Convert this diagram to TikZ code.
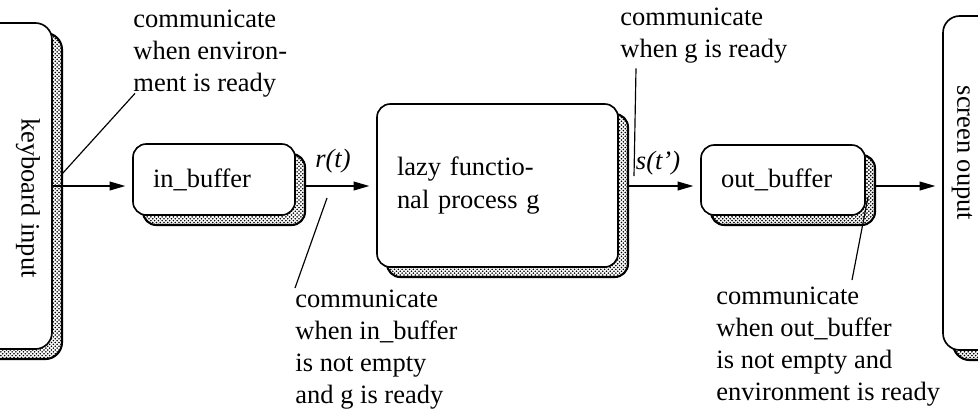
\documentclass[tikz,border=0pt]{standalone}
\usepackage{fontspec}
\setmainfont{Liberation Serif}
\usepackage{tikz}
\usetikzlibrary{arrows.meta}
\usetikzlibrary{patterns}
\usetikzlibrary{shadows}

\pgfdeclarepatternformonly{stipple}{\pgfqpoint{-0.5pt}{-0.5pt}}{\pgfqpoint{2pt}{2pt}}{\pgfqpoint{1.6pt}{1.6pt}}{
	\pgfpathcircle{\pgfqpoint{0.4pt}{0.4pt}}{0.38pt}
	\pgfpathcircle{\pgfqpoint{1.2pt}{1.2pt}}{0.38pt}
	\pgfusepath{fill}
}

\begin{document}
\begin{tikzpicture}[
	x=0.015cm, y=-0.015cm,
	every node/.style={font=\fontsize{11.3}{13.7}\selectfont},
	proc/.style={
		rectangle,
		rounded corners=2mm,
		draw=black,
		line width=0.7pt,
		fill=white,
		align=left,
		inner xsep=3mm,
		shadow xshift=1.5mm,
		shadow yshift=-1.5mm,
		general shadow={shadow xshift=1.5mm, shadow yshift=-1.5mm, pattern=stipple, draw=black, line width=0.9pt}
		},
	env/.style={
		proc,
		rounded corners=2.5mm,
		inner sep=0pt
		},
	note/.style={
		anchor=north west,
		inner sep=0pt,
		align=left
		},
	lab/.style={
		font=\fontsize{11.3}{13.7}\selectfont\itshape
		},
	flow/.style={
		-{Triangle[length=2.4mm,width=1.3mm]},
		line width=0.85pt,
		shorten >=1mm
		},
	lead/.style={
		line width=0.5pt
		}
]

\useasboundingbox (0,0) rectangle (978,409);
\clip (0,0) rectangle (978,409);

% Environment
\node [env, minimum width=1.38cm, minimum height=4.89cm] (kbd) at (6,186) {};
\node [env, minimum width=1.305cm, minimum height=5.01cm] (scr) at (986.5,183) {};
\node [rotate=-90] (kbdtxt) at (28,198) {keyboard input};
\node [rotate=-90] (scrtxt) at (962,153) {screen ouput};

% Processes
\node [proc, text width=1.83cm, minimum height=1.065cm] (inbuf) at (214,179.5) {in\_buffer};
\node [proc, text width=3.015cm, minimum height=2.445cm] (lazy) at (497.5,185.5) {lazy functio-\\nal process g};
\node [proc, text width=1.86cm, minimum height=1.05cm] (outbuf) at (783,180) {out\_buffer};

% Streams
\coordinate (mid) at (0,186);
\draw [flow] (kbd.east |- mid) -- (inbuf.west |- mid);
\draw [flow, shorten <=1.5mm] (inbuf.east |- mid) -- (lazy.west |- mid);
\draw [flow, shorten <=1.5mm] (lazy.east |- mid) -- (outbuf.west |- mid);
\draw [flow, shorten <=1.5mm] (outbuf.east |- mid) -- (scr.west |- mid);
\node [lab] (rt) at (333,161) {r(t)};
\node [lab] (st) at (658,163) {s(t’)};

% Conditions
\node [note] (cEnv) at (133,9) {communicate\\when environ-\\ment is ready};
\node [note] (cG) at (620,7) {communicate\\when g is ready};
\node [note] (cIn) at (295,289) {communicate\\when in\_buffer\\is not empty\\and g is ready};
\node [note] (cOut) at (716,286) {communicate\\when out\_buffer\\is not empty and\\environment is ready};

\coordinate (envfoot) at (62,174);
\coordinate (infoot) at (327,198);
\coordinate (gfoot) at (634,176);
\coordinate (outfoot) at (868,197);
\draw [lead] ([shift={(2,-4)}]cEnv.south west) -- (envfoot);
\draw [lead] ([shift={(0,-1)}]cIn.north west) -- (infoot);
\draw [lead] ([shift={(16,5)}]cG.south west) -- (gfoot);
\draw [lead] ([shift={(136,-6)}]cOut.north west) -- (outfoot);

\end{tikzpicture}
\end{document}
